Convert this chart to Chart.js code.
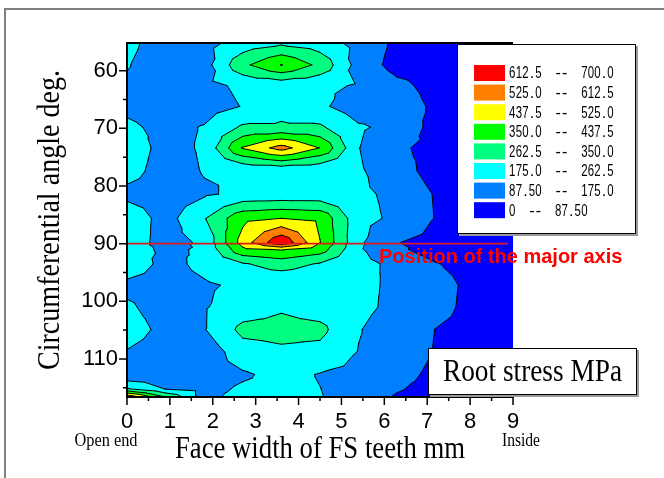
<!DOCTYPE html>
<html><head><meta charset="utf-8">
<script src="https://cdn.jsdelivr.net/npm/chart.js@4.4.1/dist/chart.umd.min.js"></script>
<style>html,body{margin:0;padding:0;background:#fff;}canvas{display:block;}</style>
</head><body>
<canvas id="c" width="664" height="478"></canvas>
<script>
// ---- data ----
const xNodes = [0, 0.9, 1.8, 2.7, 3.6, 4.5, 5.4, 6.3, 7.2, 8.1, 9.0];          // face width, mm
const yNodes = [55.2, 59.0, 62.6, 66.2, 69.8, 73.4, 77.4, 81.4, 85.6, 89.8, 91.0,
                93.5, 97.2, 101.0, 104.9, 108.8, 112.7, 115.2, 116.6];          // angle, deg
const stress = [                                                                 // MPa, one row per yNode
  [200,125,146,210,245,215,148, 69, 55,48,42],
  [181,120,137,329,440,326,140, 55, 50,45,40],
  [160,130,153,190,200,192,168,110, 58,50,42],
  [155,130,140,178,230,190,131,138, 70,55,45],
  [192,150,180,275,275,275,185,152, 55,50,45],
  [225,145,185,445,560,435,177,100, 65,52,45],
  [210,135,180,178,185,180,185,126, 51,45,40],
  [150,130,163,195,200,200,190,157, 80,60,48],
  [235,140,255,415,437,420,200,159, 84,62,50],
  [225,140,190,475,690,440,190, 90, 62,55,48],
  [209,160,185,420,445,394,185,105, 45,42,40],
  [240,144,200,255,300,255,200,155, 92,55,48],
  [150,135,164,190,185,185,195,159,120,64,50],
  [189,135,169,215,252,220,200,150,115,62,50],
  [216,150,170,286,290,285,180,124, 86,62,50],
  [170,135,118,225,248,238,172,140, 83,60,48],
  [100,125,140,164,200,171,150,120, 65,55,48],
  [270,172,150,186,195,176,140, 95, 58,52,46],
  [600,350,150,205,200,178,150, 78, 55,50,45]
];
const levels = [0, 87.5, 175, 262.5, 350, 437.5, 525, 612.5, 700];
const bandColors = ['#0000ff','#0080ff','#00ffff','#00ff80','#00ff00','#ffff00','#ff8000','#ff0000'];
const legendLabels = ['612.5  --  700.0','525.0  --  612.5','437.5  --  525.0','350.0  --  437.5',
                      '262.5  --  350.0','175.0  --  262.5','87.50  --  175.0','0  --  87.50'];
const xTicks = [0,1,2,3,4,5,6,7,8,9];
const xMinorTicks = [0.5,1.5,2.5,3.5,4.5,5.5,6.5,7.5,8.5];
const yTicks = [60,70,80,90,100,110];
const yMinorTicks = [65,75,85,95,105,115];
const majorAxisX = [0, 8.88];
const majorAxisY = [90, 90];

// ---- contour drawing through the chart scales ----
function clipPoly(poly, L) {
  const out = [];
  for (let i = 0; i < poly.length; i++) {
    const a = poly[i], b = poly[(i + 1) % poly.length];
    const ain = a.v >= L, bin = b.v >= L;
    if (ain) out.push(a);
    if (ain !== bin) {
      const t = (L - a.v) / (b.v - a.v);
      out.push({x: a.x + t * (b.x - a.x), y: a.y + t * (b.y - a.y), v: L});
    }
  }
  return out;
}
function triangles() {
  const tris = [];
  for (let r = 0; r < yNodes.length - 1; r++) {
    for (let c = 0; c < xNodes.length - 1; c++) {
      const p00 = {x: xNodes[c], y: yNodes[r], v: stress[r][c]};
      const p10 = {x: xNodes[c+1], y: yNodes[r], v: stress[r][c+1]};
      const p11 = {x: xNodes[c+1], y: yNodes[r+1], v: stress[r+1][c+1]};
      const p01 = {x: xNodes[c], y: yNodes[r+1], v: stress[r+1][c]};
      const pc = {x: (p00.x + p10.x) / 2, y: (p00.y + p01.y) / 2, v: (p00.v + p10.v + p11.v + p01.v) / 4};
      tris.push([p00, p10, pc], [p10, p11, pc], [p11, p01, pc], [p01, p00, pc]);
    }
  }
  return tris;
}
const contourPlugin = {
  id: 'contour',
  beforeDatasetsDraw(chart) {
    const {ctx, chartArea: a, scales: {x, y}} = chart;
    const P = p => [x.getPixelForValue(p.x), y.getPixelForValue(p.y)];
    const tris = triangles();
    ctx.save();
    ctx.beginPath(); ctx.rect(a.left, a.top, a.right - a.left, a.bottom - a.top); ctx.clip();
    for (let k = 0; k < bandColors.length; k++) {
      ctx.beginPath();
      for (const t of tris) {
        const poly = k === 0 ? t : clipPoly(t, levels[k]);
        if (poly.length < 3) continue;
        poly.forEach((p, i) => { const [px, py] = P(p); i ? ctx.lineTo(px, py) : ctx.moveTo(px, py); });
        ctx.closePath();
      }
      ctx.fillStyle = bandColors[k];
      ctx.fill('nonzero');
    }
    ctx.beginPath();
    for (let k = 1; k < bandColors.length; k++) {
      const L = levels[k];
      for (const t of tris) {
        const pts = [];
        for (let i = 0; i < 3; i++) {
          const p = t[i], q = t[(i + 1) % 3];
          if ((p.v >= L) !== (q.v >= L)) {
            const f = (L - p.v) / (q.v - p.v);
            pts.push({x: p.x + f * (q.x - p.x), y: p.y + f * (q.y - p.y)});
          }
        }
        if (pts.length === 2) {
          const [x1, y1] = P(pts[0]), [x2, y2] = P(pts[1]);
          ctx.moveTo(x1, y1); ctx.lineTo(x2, y2);
        }
      }
    }
    ctx.strokeStyle = '#000'; ctx.lineWidth = 1; ctx.lineJoin = 'round'; ctx.lineCap = 'round';
    ctx.stroke();
    ctx.restore();
  }
};

function monoText(ctx, s, x, y, adv) {
  for (let i = 0; i < s.length; i++) {
    if (s[i] !== ' ') ctx.fillText(s[i], x + i * adv + adv / 2, y, adv - 0.2);
  }
}

const decorPlugin = {
  id: 'decor',
  afterDraw(chart) {
    const {ctx, chartArea: a, scales: {x, y}} = chart;
    ctx.save();
    // legend box
    ctx.fillStyle = '#9a9a9a'; ctx.fillRect(459, 46, 179, 190);
    ctx.fillStyle = '#fff'; ctx.fillRect(457, 44, 179, 190);
    ctx.strokeStyle = '#000'; ctx.lineWidth = 1; ctx.strokeRect(457.5, 44.5, 178, 189);
    ctx.font = '16px "Liberation Sans", Arial, sans-serif';
    ctx.textAlign = 'center'; ctx.textBaseline = 'middle';
    legendLabels.forEach((lab, i) => {
      const cy = 73 + i * 19.6;
      ctx.fillStyle = bandColors[bandColors.length - 1 - i];
      ctx.fillRect(474, cy - 8, 31, 16);
      ctx.fillStyle = '#000';
      monoText(ctx, lab, 509, cy + 1, 6.55);
    });
    // axis lines
    ctx.strokeStyle = '#000'; ctx.lineWidth = 2;
    ctx.beginPath();
    ctx.moveTo(a.left, a.top); ctx.lineTo(a.right, a.top);
    ctx.moveTo(a.left, a.top - 1); ctx.lineTo(a.left, a.bottom + 1);
    ctx.moveTo(a.left - 1, a.bottom); ctx.lineTo(a.right + 1, a.bottom);
    ctx.stroke();
    // tick marks
    ctx.lineWidth = 1.5;
    ctx.beginPath();
    yTicks.forEach(v => { const p = y.getPixelForValue(v); ctx.moveTo(a.left - 8, p); ctx.lineTo(a.left, p); });
    yMinorTicks.forEach(v => { const p = y.getPixelForValue(v); ctx.moveTo(a.left - 4, p); ctx.lineTo(a.left, p); });
    xTicks.forEach(v => { const p = x.getPixelForValue(v); ctx.moveTo(p, a.bottom); ctx.lineTo(p, a.bottom + 8); });
    xMinorTicks.forEach(v => { const p = x.getPixelForValue(v); ctx.moveTo(p, a.bottom); ctx.lineTo(p, a.bottom + 4); });
    ctx.stroke();
    // titles
    ctx.fillStyle = '#000';
    ctx.textAlign = 'center'; ctx.textBaseline = 'alphabetic';
    ctx.font = '31px "Liberation Serif", "Times New Roman", serif';
    ctx.fillText('Face width of FS teeth mm', (a.left + a.right) / 2, 458, 290);
    ctx.save();
    ctx.translate(59, (a.top + a.bottom) / 2); ctx.rotate(-Math.PI / 2);
    ctx.fillText('Circumferential angle deg.', 0, 0, 300);
    ctx.restore();
    ctx.font = '18px "Liberation Serif", "Times New Roman", serif';
    ctx.fillText('Open end', 106, 446, 63);
    ctx.fillText('Inside', 521, 446, 38);
    // major axis label
    ctx.fillStyle = '#ff0000'; ctx.textAlign = 'left';
    ctx.font = 'bold 20px "Liberation Sans", Arial, sans-serif';
    ctx.fillText('Position of the major axis', 379, 263, 254);
    // root stress box
    ctx.fillStyle = '#9a9a9a'; ctx.fillRect(430, 350, 209, 47);
    ctx.fillStyle = '#fff'; ctx.fillRect(428, 348, 209, 47);
    ctx.strokeStyle = '#000'; ctx.lineWidth = 1; ctx.strokeRect(428.5, 348.5, 208, 46);
    ctx.fillStyle = '#000';
    ctx.font = '31px "Liberation Serif", "Times New Roman", serif';
    ctx.fillText('Root stress MPa', 443, 381, 179);
    // outer frame
    ctx.strokeStyle = '#808080'; ctx.lineWidth = 2;
    ctx.beginPath(); ctx.moveTo(5, 478); ctx.lineTo(5, 9); ctx.lineTo(664, 9); ctx.stroke();
    ctx.restore();
  }
};

const tickFont = {family: '"Liberation Sans Narrow", "Liberation Sans", Arial, sans-serif', size: 22};
new Chart(document.getElementById('c'), {
  type: 'line',
  data: {
    datasets: [{
      label: 'Position of the major axis',
      data: majorAxisX.map((v, i) => ({x: v, y: majorAxisY[i]})),
      borderColor: '#e01818', borderWidth: 1.6, pointRadius: 0, fill: false
    }]
  },
  options: {
    responsive: false, animation: false, devicePixelRatio: 1,
    layout: {padding: {left: 0, top: 43, right: 151, bottom: 0}},
    plugins: {legend: {display: false}, tooltip: {enabled: false}},
    scales: {
      x: {
        type: 'linear', position: 'bottom', min: 0, max: 9,
        afterFit: s => { s.height = 81; },
        afterBuildTicks: s => { s.ticks = xTicks.map(v => ({value: v})); },
        grid: {display: false, drawTicks: false}, border: {display: false},
        ticks: {padding: 12, color: '#000', font: tickFont, maxRotation: 0, autoSkip: false}
      },
      y: {
        type: 'linear', position: 'left', reverse: true, min: 55.2, max: 116.6,
        afterFit: s => { s.width = 127; },
        afterBuildTicks: s => { s.ticks = yTicks.map(v => ({value: v})); },
        grid: {display: false, drawTicks: false}, border: {display: false},
        ticks: {padding: 9, color: '#000', font: tickFont, autoSkip: false}
      }
    }
  },
  plugins: [contourPlugin, decorPlugin]
});
</script>
</body></html>
